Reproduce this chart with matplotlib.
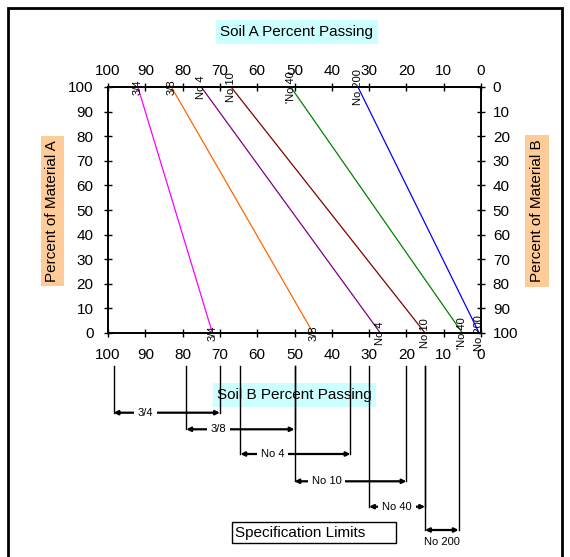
import numpy as np
import matplotlib
matplotlib.use('Agg')
import matplotlib.pyplot as plt
from matplotlib.patches import Rectangle

plt.rcParams['font.family'] = ['Liberation Sans', 'DejaVu Sans']

# Sieve lines: soil A passing (top, at 100 % A) and soil B passing (bottom, at 0 % A)
sieves = ['3/4', '3/8', 'No 4', 'No 10', "'No 40", 'No 200']
soil_a = [92, 83, 75, 67, 51, 33]
soil_b = [72, 45, 27, 15, 5, 0.5]
line_colors = ['#ff00ff', '#ff6600', '#800080', '#800000', '#008000', '#0000ff']

# Specification limits (upper, lower) per sieve
spec_names = ['3/4', '3/8', 'No 4', 'No 10', 'No 40', 'No 200']
spec_upper = [98.5, 79, 64.5, 50, 30, 15]
spec_lower = [70, 50, 35, 20, 15, 6]

W, H = 570, 557
fig = plt.figure(figsize=(W / 100, H / 100), dpi=100)


def fx(x):
    return x / W


def fy(y):
    return 1 - y / H


# outer frame
fig.patches.append(Rectangle((fx(8), -0.02), fx(554), fy(8) + 0.02, transform=fig.transFigure,
                             fill=False, edgecolor='black', lw=2))

left, right, top, bottom = 108, 481, 87, 333
ax = fig.add_axes([fx(left), fy(bottom), fx(right - left), fy(top) - fy(bottom)])
ax.set_xlim(100, 0)
ax.set_ylim(0, 100)
ax.set_xticks(np.arange(0, 101, 10))
ax.set_yticks(np.arange(0, 101, 10))
for s in ax.spines.values():
    s.set_linewidth(1.2)
ax.tick_params(direction='inout', length=6, width=1, labelsize=11)
ax.tick_params(axis='x', pad=8)
ax.tick_params(axis='y', pad=7.5)

top_ax = ax.secondary_xaxis('top')
top_ax.set_xticks(np.arange(0, 101, 10))
top_ax.tick_params(direction='inout', length=6, width=1, labelsize=11, pad=3.5)
top_ax.spines['top'].set_linewidth(1.2)

ax2 = ax.twinx()
ax2.set_ylim(100, 0)
ax2.set_yticks(np.arange(0, 101, 10))
ax2.tick_params(direction='inout', length=6, width=1, labelsize=11, pad=5.5)
for s in ax2.spines.values():
    s.set_linewidth(1.2)

for name, a, b, c in zip(sieves, soil_a, soil_b, line_colors):
    ax.plot([a, b], [100, 0], color=c, lw=0.9, clip_on=False)
    ax.text(a, 100, name, rotation=90, ha='center', va='center', fontsize=8, clip_on=False)
    ax.text(b, 0, name, rotation=90, ha='center', va='center', fontsize=8, clip_on=False)

fig.text(fx(297), fy(32), 'Soil A Percent Passing', ha='center', va='center', fontsize=11,
         bbox=dict(boxstyle='square,pad=0.3', facecolor='#ccffff', edgecolor='none'))
fig.text(fx(52.5), fy(211), 'Percent of Material A', rotation=90, ha='center', va='center',
         fontsize=11, bbox=dict(boxstyle='square,pad=0.3', facecolor='#ffcc99', edgecolor='none'))
fig.text(fx(537), fy(211), 'Percent of Material B', rotation=90, ha='center', va='center',
         fontsize=11, bbox=dict(boxstyle='square,pad=0.3', facecolor='#ffcc99', edgecolor='none'))

# specification bracket area, same x scale, y in pixels from top
bax = fig.add_axes([fx(left), 0, fx(right - left), fy(360)])
bax.set_xlim(100, 0)
bax.set_ylim(H, 360)
bax.axis('off')

bax.text(50, 395, 'Soil B Percent Passing', ha='center', va='center', fontsize=11, zorder=1,
         bbox=dict(boxstyle='square,pad=0.3', facecolor='#ccffff', edgecolor='none'))

levels = [412.7, 429.3, 454, 481.3, 506.7, 530]
for name, hi, lo, yl in zip(spec_names, spec_upper, spec_lower, levels):
    bax.plot([hi, hi], [366, yl], color='black', lw=1, zorder=3)
    bax.plot([lo, lo], [366, yl], color='black', lw=1, zorder=3)
    bax.annotate('', xy=(hi, yl), xytext=(lo, yl),
                 arrowprops=dict(arrowstyle='<|-|>', lw=1.6, color='black', mutation_scale=6,
                                 shrinkA=0, shrinkB=0), zorder=3)
    if hi - lo < 12:
        bax.text((hi + lo) / 2, yl + 12, name, ha='center', va='center', fontsize=8, zorder=4)
    else:
        cx = max(hi - 8.6, (hi + lo) / 2)
        bax.text(cx, yl, name, ha='center', va='center', fontsize=8, zorder=4,
                 bbox=dict(boxstyle='square,pad=0.35', facecolor='white', edgecolor='none'))

fig.patches.append(Rectangle((fx(232), fy(543)), fx(164), fy(522) - fy(543), transform=fig.transFigure,
                             facecolor='white', edgecolor='black', lw=1))
fig.text(fx(235), fy(532.5), 'Specification Limits', ha='left', va='center', fontsize=11)

fig.savefig('out.png', dpi=100)
